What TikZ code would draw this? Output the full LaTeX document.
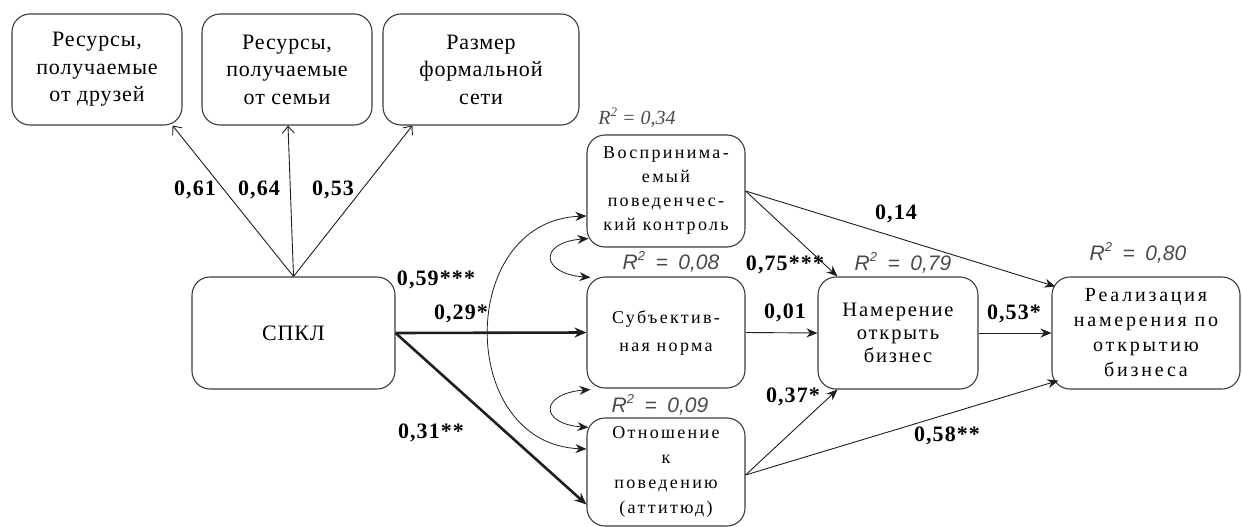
\documentclass[tikz,border=0pt]{standalone}
\usepackage{fontspec}
\setmainfont{Liberation Serif}
\newfontfamily\topfont{Liberation Serif}[LetterSpace=4]
\newfontfamily\midfont{Liberation Serif}[LetterSpace=13]
\newfontfamily\intfont{Liberation Serif}[LetterSpace=9]
\newfontfamily\rightfont{Liberation Serif}[LetterSpace=14]
\newfontfamily\coeffont{Liberation Serif}[LetterSpace=5]
\newfontfamily\rsqfont{Liberation Sans}
\usetikzlibrary{arrows.meta,calc}
\definecolor{boxc}{HTML}{3C3C3C}
\definecolor{linec}{HTML}{1E1E1E}
\definecolor{rsqc}{HTML}{4A4A4A}
\newcommand\rsqlabel[1]{R\raisebox{0.42em}{\fontsize{13}{13}\selectfont 2}\hspace{0.5em}=\hspace{0.5em}#1}
\newcommand\rsqserif[1]{R\raisebox{0.42em}{\fontsize{13}{13}\selectfont 2} = #1}
\begin{document}
\begin{tikzpicture}[x=1pt,y=-1pt,
  box/.style={draw=boxc, line width=1.1pt, rounded corners=18pt, inner sep=0pt, align=center, text=black},
  topbox/.style={box, minimum height=111pt, font=\topfont\fontsize{22}{27.5}\selectfont},
  midbox/.style={box, minimum width=158pt, font=\midfont\fontsize{18}{24}\selectfont},
  rightbox/.style={box, minimum height=112pt, font=\rightfont\fontsize{20}{25}\selectfont},
  coef/.style={inner sep=0pt, text=black, font=\coeffont\bfseries\fontsize{22}{24}\selectfont},
  rsq/.style={inner sep=0pt, text=rsqc, font=\rsqfont\itshape\fontsize{21}{24}\selectfont},
  thin/.style={draw=linec, line width=0.9pt, -{Stealth[length=11pt,width=9pt]}},
  thick/.style={draw=linec, line width=2.6pt, -{Stealth[length=12pt,width=10pt]}},
  load/.style={draw=linec, line width=0.9pt, -{Straight Barb[length=7pt,width=12pt]}},
  cov/.style={draw=linec, line width=0.8pt, {Stealth[length=11pt,width=9pt]}-{Stealth[length=11pt,width=9pt]}}]
\useasboundingbox (0,0) rectangle (1242,527);

% indicator boxes of the social capital construct
\node[topbox, minimum width=170pt] (fr) at (97,69.5) {Ресурсы,\\получаемые\\от друзей};
\node[topbox, minimum width=170pt] (fam) at (287,69.5) {Ресурсы,\\получаемые\\от семьи};
\node[topbox, minimum width=196pt] (net) at (481,69.5) {Размер\\формальной\\сети};

% latent construct
\node[box, minimum width=203pt, minimum height=112pt, font=\topfont\fontsize{22}{27.5}\selectfont] (spkl) at (293.5,333) {СПКЛ};

% theory of planned behaviour constructs
\node[midbox, minimum height=112pt] (pbc) at (666,191) {Воспринима-\\емый\\поведенчес-\\кий контроль};
\node[midbox, minimum height=111pt, font=\midfont\fontsize{18}{28}\selectfont] (sn) at (666,332.5) {Субъектив-\\ная норма};
\node[midbox, minimum height=108pt, font=\midfont\fontsize{18}{25}\selectfont] (att) at (666,472) {Отношение\\к\\поведению\\(аттитюд)};
\node[rightbox, minimum width=160pt, font=\intfont\fontsize{20.5}{23}\selectfont] (int) at (898,333) {Намерение\\открыть\\бизнес};
\node[rightbox, minimum width=188pt] (real) at (1146,333) {Реализация\\намерения по\\открытию\\бизнеса};

% loadings
\draw[load] (spkl.north) -- ($(fr.south east)+(-10,0)$);
\draw[load] (spkl.north) -- ($(fam.south)+(1,0)$);
\draw[load] (spkl.north) -- ($(net.south west)+(30,0)$);
\node[coef] (l1) at (195,190) {0,61};
\node[coef] (l2) at (259,190) {0,64};
\node[coef] (l3) at (333,190) {0,53};

% structural paths
\draw[thick] (spkl.east) -- (sn.west);
\draw[thick] (spkl.east) -- ($(att.south west)+(0,-22)$);
\coordinate (attout) at ($(att.east)+(0,3)$);
\draw[thin] (pbc.east) -- ($(int.north west)+(20,0)$);
\draw[thin] (pbc.east) -- ($(real.north west)+(4,10)$);
\draw[thin] (sn.east) -- (int.west);
\draw[thin] (attout) -- ($(int.south west)+(20,0)$);
\draw[thin] (attout) -- ($(real.south west)+(7,-9)$);
\draw[thin] (int.east) -- (real.west);

% covariances
\coordinate (ca1) at ($(pbc.west)+(0,25)$);
\coordinate (ca2) at ($(att.west)+(0,-23)$);
\draw[cov] (ca1) .. controls +(-130,5) and +(-130,-5) .. (ca2);
\coordinate (cs1) at ($(pbc.south west)+(2,-9)$);
\coordinate (cs2) at ($(sn.north west)+(4,1)$);
\draw[cov] (cs1) .. controls +(-50,4) and +(-50,-4) .. (cs2);
\coordinate (cs3) at ($(sn.south west)+(4,1)$);
\coordinate (cs4) at ($(att.north west)+(2,10)$);
\draw[cov] (cs3) .. controls +(-50,4) and +(-50,-4) .. (cs4);

% path coefficients
\node[coef] (p1) at (436,280) {0,59***};
\node[coef] (p2) at (461,314) {0,29*};
\node[coef] (p3) at (431,433) {0,31**};
\node[coef] (p4) at (785,265) {0,75***};
\node[coef] (p5) at (785,313) {0,01};
\node[coef] (p6) at (793,397) {0,37*};
\node[coef] (p7) at (896,214) {0,14};
\node[coef] (p8) at (1014,314) {0,53*};
\node[coef] (p9) at (947,436) {0,58**};

% explained variance
\node[inner sep=0pt, text=rsqc, font=\itshape\fontsize{20}{24}\selectfont] (r1) at (637,118) {\rsqserif{0,34}};
\node[rsq] (r2) at (671,262) {\rsqlabel{0,08}};
\node[rsq] (r3) at (660,405) {\rsqlabel{0,09}};
\node[rsq] (r4) at (903,263) {\rsqlabel{0,79}};
\node[rsq] (r5) at (1138,253) {\rsqlabel{0,80}};
\end{tikzpicture}
\end{document}
